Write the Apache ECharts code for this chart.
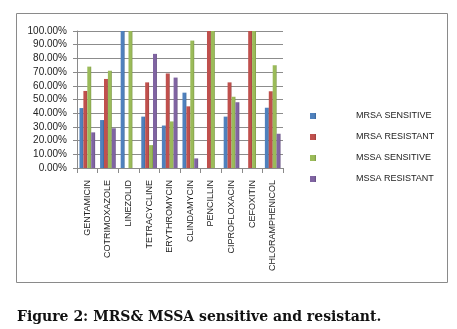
<!DOCTYPE html>
<html>
<head>
<meta charset="utf-8">
<script src="https://cdn.jsdelivr.net/npm/echarts@6/dist/echarts.min.js"></script>
<style>
  html, body { margin: 0; padding: 0; background: #fff; }
  #chart { width: 457px; height: 329px; }
</style>
</head>
<body>
<div id="chart"></div>
<script>
// antibiotics on the x axis
const drugs = [
  "GENTAMICIN", "COTRIMOXAZOLE", "LINEZOLID", "TETRACYCLINE", "ERYTHROMYCIN",
  "CLINDAMYCIN", "PENCILLIN", "CIPROFLOXACIN", "CEFOXITIN", "CHLORAMPHENICOL",
];

// shares, 0..1
const mrsaSensitive = [0.4375, 0.35, 1.0, 0.375, 0.31, 0.55, 0.0, 0.375, 0.0, 0.44];
const mrsaResistant = [0.5625, 0.65, 0.0, 0.625, 0.69, 0.45, 1.0, 0.625, 1.0, 0.56];
const mssaSensitive = [0.74, 0.71, 1.0, 0.167, 0.34, 0.93, 1.0, 0.52, 1.0, 0.75];
const mssaResistant = [0.26, 0.29, 0.0, 0.833, 0.66, 0.07, 0.0, 0.48, 0.0, 0.25];

const seriesNames = ["MRSA SENSITIVE", "MRSA RESISTANT", "MSSA SENSITIVE", "MSSA RESISTANT"];
const yTicks = [0, 0.1, 0.2, 0.3, 0.4, 0.5, 0.6, 0.7, 0.8, 0.9, 1.0];

const colors = ["#4F81BD", "#C0504D", "#9BBB59", "#8064A2"];
const darker = ["#3A6496", "#99403D", "#7A9645", "#634D80"];

const chart = echarts.init(document.getElementById("chart"));

function shade(i) {
  return new echarts.graphic.LinearGradient(0, 0, 1, 0, [
    { offset: 0, color: colors[i] },
    { offset: 0.7, color: colors[i] },
    { offset: 1, color: darker[i] },
  ]);
}

const values = [mrsaSensitive, mrsaResistant, mssaSensitive, mssaResistant];
const series = values.map((vals, i) => ({
  name: seriesNames[i],
  type: "bar",
  data: vals,
  barGap: "0%",
  barCategoryGap: "24%",
  itemStyle: { color: shade(i) },
}));

const option = {
  animation: false,
  color: colors,
  graphic: [
    {
      type: "rect",
      shape: { x: 16.5, y: 13.5, width: 431, height: 269 },
      style: { fill: "none", stroke: "#8a8a8a", lineWidth: 1 },
      silent: true,
      z: -1,
    },
  ],
  title: {
    text: "Figure 2: MRS& MSSA sensitive and resistant.",
    left: 12,
    top: 305,
    textStyle: {
      fontFamily: "DejaVu Serif",
      fontWeight: "bold",
      fontSize: 14,
      color: "#111",
    },
  },
  legend: {
    orient: "vertical",
    left: 305,
    top: 105,
    itemWidth: 6,
    itemHeight: 6,
    itemGap: 9,
    icon: "rect",
    data: seriesNames,
    textStyle: {
      fontFamily: "Liberation Sans",
      fontSize: 9,
      color: "#222",
      lineHeight: 12,
      padding: [0, 0, 0, 35],
    },
  },
  grid: { left: 77, right: 174, top: 31, bottom: 161, containLabel: false },
  xAxis: {
    type: "category",
    data: drugs,
    axisLine: { lineStyle: { color: "#8a8a8a" } },
    axisTick: { show: true, length: 5, lineStyle: { color: "#8a8a8a" } },
    axisLabel: {
      interval: 0,
      rotate: 90,
      margin: 12,
      fontFamily: "Liberation Sans",
      fontSize: 9,
      color: "#222",
    },
  },
  yAxis: {
    type: "value",
    min: yTicks[0],
    max: yTicks[yTicks.length - 1],
    interval: 0.1,
    axisLine: { show: true, lineStyle: { color: "#8a8a8a" } },
    axisTick: { show: true, length: 4, lineStyle: { color: "#8a8a8a" } },
    splitLine: { lineStyle: { color: "#8c8c8c" } },
    axisLabel: {
      margin: 10,
      fontFamily: "Liberation Sans",
      fontSize: 10,
      color: "#222",
      formatter: (v) => (v * 100).toFixed(2) + "%",
    },
  },
  series,
};

chart.setOption(option);
</script>
</body>
</html>
